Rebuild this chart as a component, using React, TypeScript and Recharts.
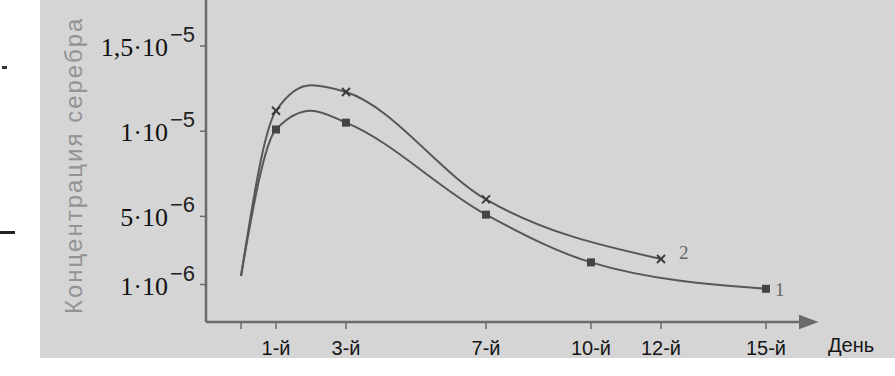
import React from 'react';
import { LineChart, Line, XAxis, YAxis } from 'recharts';

// day, concentration in units of 1e-6 (day 2 read off the curve peak, no marker there)
const days1 = [0, 1, 2, 3, 7, 10, 15];
const conc1 = [1.5, 10.1, 11.2, 10.5, 5.1, 2.3, 0.75];
const days2 = [0, 1, 2, 3, 7, 12];
const conc2 = [1.5, 11.2, 12.7, 12.3, 6.0, 2.5];
const measuredDays = [1, 3, 7, 10, 12, 15];

const xTicks = [0, 1, 3, 7, 10, 12, 15];
const xTickLabels = ['', '1-й', '3-й', '7-й', '10-й', '12-й', '15-й'];
const yTicks = [1, 5, 10, 15];
const yTickBase = ['1·10', '5·10', '1·10', '1,5·10'];
const yTickExp = ['−6', '−6', '−5', '−5'];

const series1 = days1.map((d, i) => ({ day: d, c: conc1[i] }));
const series2 = days2.map((d, i) => ({ day: d, c: conc2[i] }));

const AXIS = '#6a6a6a';
const LINE = '#575757';

function XTick(props: any) {
  const { x, y, payload } = props;
  const i = xTicks.indexOf(payload.value);
  return (
    <text
      x={x}
      y={y + 24}
      textAnchor="middle"
      fontFamily="'Liberation Sans Narrow', 'Liberation Sans', Arial, sans-serif"
      fontSize={20}
      fill="#151515"
    >
      {xTickLabels[i]}
    </text>
  );
}

function YTick(props: any) {
  const { y, payload } = props;
  const i = yTicks.indexOf(payload.value);
  return (
    <g>
      <text
        x={168}
        y={y + 10}
        textAnchor="end"
        fontFamily="'Liberation Serif', serif"
        fontSize={26}
        fill="#111"
      >
        {yTickBase[i]}
      </text>
      <text
        x={170}
        y={y - 4}
        fontFamily="'Liberation Sans', Arial, sans-serif"
        fontSize={22}
        fill="#222"
      >
        {yTickExp[i]}
      </text>
    </g>
  );
}

function makeDot(kind: 'square' | 'cross', label: string, lastDay: number, dx: number, dy: number) {
  return (props: any) => {
    const { cx, cy, index, payload } = props;
    if (!measuredDays.includes(payload.day)) return <g key={`d-${kind}-${index}`} />;
    return (
      <g key={`d-${kind}-${index}`}>
        {kind === 'square' ? (
          <rect x={cx - 4} y={cy - 4} width={8} height={8} fill="#444" />
        ) : (
          <g stroke="#3a3a3a" strokeWidth={2}>
            <line x1={cx - 4} y1={cy - 4} x2={cx + 4} y2={cy + 4} />
            <line x1={cx - 4} y1={cy + 4} x2={cx + 4} y2={cy - 4} />
          </g>
        )}
        {payload.day === lastDay && (
          <text
            x={cx + dx}
            y={cy + dy}
            fontFamily="'Liberation Serif', serif"
            fontSize={19}
            fill="#666"
          >
            {label}
          </text>
        )}
      </g>
    );
  };
}

export default function App() {
  return (
    <div style={{ position: 'absolute', left: 0, top: 0, width: 895, height: 376, background: '#fff', overflow: 'hidden' }}>
      <div style={{ position: 'absolute', left: 40, top: 0, width: 855, height: 358, background: '#d5d5d5' }} />
      <svg width={0} height={0} style={{ position: 'absolute' }}>
        <defs>
          <marker id="arrow" markerWidth="8" markerHeight="6" refX="1" refY="3" orient="auto" markerUnits="strokeWidth">
            <path d="M0,0 L8,3 L0,6 Z" fill={AXIS} />
          </marker>
        </defs>
      </svg>
      <svg width={895} height={376} style={{ position: 'absolute', left: 0, top: 0 }}>
        <text
          transform="translate(82,314) rotate(-90)"
          fontFamily="'Liberation Sans', Arial, sans-serif"
          fontSize={24}
          letterSpacing={2}
          fill="#939393"
        >
          Концентрация серебра
        </text>
        <text x={828} y={352} fontFamily="'Liberation Sans Narrow', 'Liberation Sans', Arial, sans-serif" fontSize={20} fill="#151515">
          День
        </text>
        <rect x={2} y={66} width={5} height={3} fill="#333" />
        <rect x={0} y={231} width={15} height={3} fill="#222" />
      </svg>
      <div style={{ position: 'absolute', left: 0, top: 0 }}>
        <LineChart width={895} height={376} margin={{ top: 0, right: 94, bottom: 14, left: 6 }}>
          <XAxis
            type="number"
            dataKey="day"
            domain={[-1, 16]}
            ticks={xTicks}
            interval={0}
            height={40}
            allowDataOverflow
            axisLine={{ stroke: AXIS, strokeWidth: 2.5, markerEnd: 'url(#arrow)' }}
            tickLine={{ stroke: AXIS, strokeWidth: 1.5 }}
            tickSize={7}
            tick={<XTick />}
          />
          <YAxis
            type="number"
            domain={[-1.2, 17.7]}
            ticks={yTicks}
            interval={0}
            width={200}
            allowDataOverflow
            axisLine={{ stroke: AXIS, strokeWidth: 2.5 }}
            tickLine={{ stroke: AXIS, strokeWidth: 1.5 }}
            tickSize={6}
            tick={<YTick />}
          />
          <Line
            data={series2}
            dataKey="c"
            type="monotoneX"
            stroke={LINE}
            strokeWidth={2}
            dot={makeDot('cross', '2', 12, 18, 0)}
            isAnimationActive={false}
          />
          <Line
            data={series1}
            dataKey="c"
            type="monotoneX"
            stroke={LINE}
            strokeWidth={2}
            dot={makeDot('square', '1', 15, 9, 7)}
            isAnimationActive={false}
          />
        </LineChart>
      </div>
    </div>
  );
}
